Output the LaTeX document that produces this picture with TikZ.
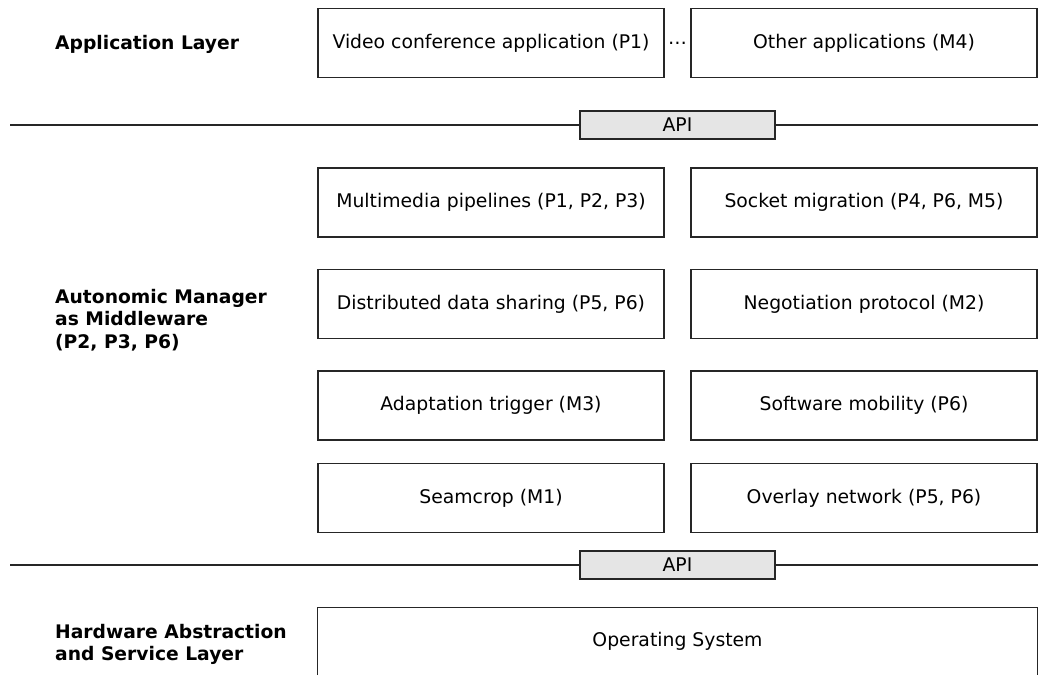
\documentclass[tikz,border=0pt]{standalone}
\usepackage{fontspec}
\setmainfont{DejaVu Sans}
\begin{document}
\begin{tikzpicture}[x=1pt,y=-1pt,
  every node/.style={font=\fontsize{18.8}{22.5}\selectfont},
  box/.style={draw=black!85, line width=1.2pt, minimum width=346pt, minimum height=69pt, inner sep=0pt},
  apibox/.style={draw=black!85, fill=black!10, line width=1.2pt, minimum width=195pt, minimum height=28pt, inner sep=0pt},
  layer/.style={anchor=west, align=left, inner sep=0pt, font=\fontsize{18.7}{22.5}\selectfont\bfseries},
  rule/.style={draw=black!85, line width=1.2pt}]
\useasboundingbox (0,0) rectangle (1038,675);

% layer captions
\node[layer] (lapp) at (55,44.5) {Application Layer};
\node[layer] (lmid) at (55,320) {Autonomic Manager\\as Middleware\\(P2, P3, P6)};
\node[layer] (lhw) at (55,644.5) {Hardware Abstraction\\and Service Layer};

% application layer
\node[box] (video) at (491,43) {Video conference application (P1)};
\node[box] (other) at (864,43) {Other applications (M4)};
\node[inner sep=0pt] (dots) at (677.5,43.5) {…};

% upper API
\coordinate (l1a) at (10,125);
\coordinate (l1b) at (1038,125);
\node[apibox] (api1) at (677.5,125) {API};
\draw[rule] (l1a) -- (api1.west);
\draw[rule] (api1.east) -- (l1b);

% middleware components
\node[box] (mm) at (491,202.5) {Multimedia pipelines (P1, P2, P3)};
\node[box] (sock) at (864,202.5) {Socket migration (P4, P6, M5)};
\node[box] (dds) at (491,304) {Distributed data sharing (P5, P6)};
\node[box] (neg) at (864,304) {Negotiation protocol (M2)};
\node[box] (trig) at (491,405.5) {Adaptation trigger (M3)};
\node[box] (mob) at (864,405.5) {Software mobility (P6)};
\node[box] (seam) at (491,498) {Seamcrop (M1)};
\node[box] (ovl) at (864,498) {Overlay network (P5, P6)};

% lower API
\coordinate (l2a) at (10,565);
\coordinate (l2b) at (1038,565);
\node[apibox] (api2) at (677.5,565) {API};
\draw[rule] (l2a) -- (api2.west);
\draw[rule] (api2.east) -- (l2b);

% operating system, open at the bottom
\node[minimum width=719pt, minimum height=67pt, inner sep=0pt] (os) at (677.5,641.5) {Operating System};
\draw[rule] (os.south west) -- (os.north west) -- (os.north east) -- (os.south east);
\end{tikzpicture}
\end{document}
